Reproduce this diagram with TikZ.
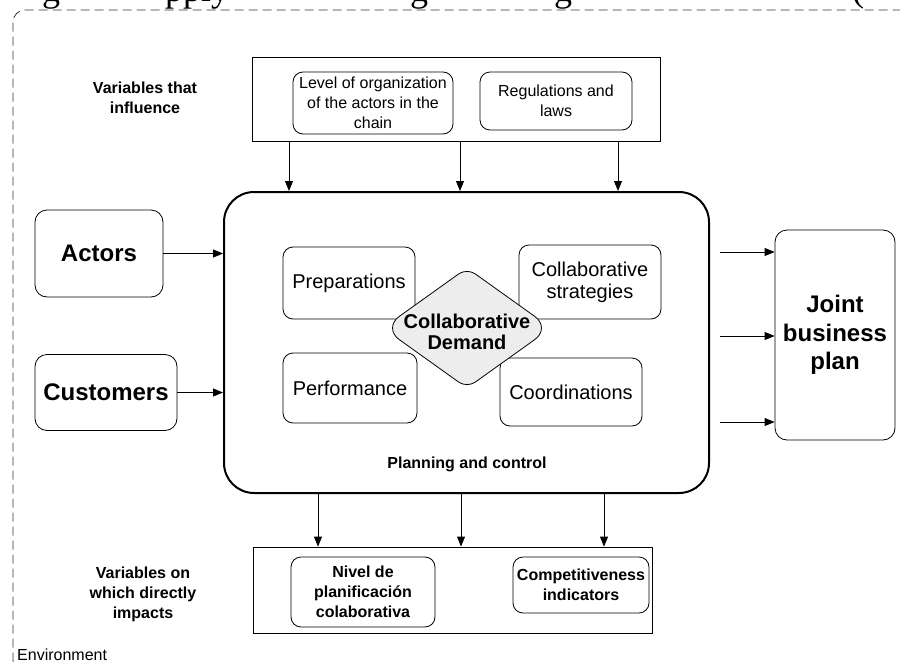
\documentclass[tikz,border=0pt]{standalone}
\usepackage{fontspec}
\setmainfont{Liberation Sans}
\newfontfamily\capfont{Liberation Serif}
\usetikzlibrary{shapes.geometric,arrows.meta,calc}
\begin{document}
\begin{tikzpicture}[x=1pt,y=-1pt,
  rbox/.style={draw, rounded corners=10pt, align=center, inner sep=1pt, line width=0.8pt},
  sqbox/.style={draw, inner sep=0pt, line width=0.8pt},
  t16/.style={font=\fontsize{16}{20}\selectfont},
  b16/.style={font=\bfseries\fontsize{16}{20}\selectfont},
  t20/.style={font=\fontsize{20}{22}\selectfont},
  b20/.style={font=\bfseries\fontsize{20}{21}\selectfont},
  b24/.style={font=\bfseries\fontsize{24}{28.5}\selectfont},
  arr/.style={-{Triangle[length=10pt,width=8pt]}, line width=0.8pt},
  capfrag/.style={font=\capfont\fontsize{36}{40}\selectfont, inner sep=0pt, anchor=base west},
  frame/.style={draw=black!80, line width=0.8pt, dash pattern=on 9pt off 5pt, rounded corners=12pt},
  diamondshape/.style={draw, line width=0.8pt, fill=black!7}
]
\useasboundingbox (0,0) rectangle (900,664);

% clipped caption fragments above the frame
\node[capfrag] (cf1) at (42,1.5) {g};
\node[capfrag] (cf2) at (165,1.5) {pply};
\node[capfrag] (cf3) at (410,1.5) {g};
\node[capfrag] (cf4) at (554,1.5) {g};
\node[capfrag] (cf5) at (852,1.5) {(};

% environment frame
\draw[frame] (960,672) -- (13,672) -- (13,10) -- (960,10);
\node[t16, anchor=west, inner sep=0pt] (env) at (17,655) {Environment};

% top box
\node[sqbox, minimum width=408pt, minimum height=84pt] (topbox) at (456,99) {};
\node[rbox, t16, minimum width=160pt, minimum height=62pt] (level) at (373,103)
  {Level of organization\\of the actors in the\\chain};
\node[rbox, t16, minimum width=152pt, minimum height=58pt] (regs) at (556,101)
  {Regulations and\\laws};
\node[b16, align=center] (varinf) at (145,98) {Variables that\\influence};

% main box
\node[draw, line width=2pt, rounded corners=30pt, minimum width=485pt, minimum height=301pt] (main) at (466.5,342.5) {};
\node[b16] (plan) at (467,464) {Planning and control};

\node[rbox, t20, minimum width=132pt, minimum height=72pt] (prep) at (349,283) {Preparations};
\node[rbox, t20, minimum width=142pt, minimum height=74pt] (strat) at (590,282) {Collaborative\\strategies};
\node[rbox, t20, minimum width=134pt, minimum height=70pt] (perf) at (350,388) {Performance};
\node[rbox, t20, minimum width=142pt, minimum height=68pt] (coord) at (571,392) {Coordinations};

% central diamond
\draw[diamondshape] (425,298) [rounded corners=20pt] -- (383,328) -- (425,358)
  [rounded corners=10pt] -- (467,388) -- (509,358)
  [rounded corners=20pt] -- (551,328) -- (509,298)
  [rounded corners=10pt] -- (467,268) -- cycle;
\node[b20, align=center, inner sep=0pt] (demand) at (467,332) {Collaborative\\Demand};

% left boxes
\node[rbox, b24, rounded corners=12pt, minimum width=128pt, minimum height=87pt] (actors) at (99,253.5) {Actors};
\node[rbox, b24, rounded corners=12pt, minimum width=142pt, minimum height=76pt] (cust) at (106,392.5) {Customers};

% right box
\node[rbox, b24, rounded corners=12pt, minimum width=120pt, minimum height=210pt] (joint) at (835,335) {Joint\\business\\plan};

% bottom box
\node[sqbox, minimum width=399pt, minimum height=86pt] (botbox) at (452.5,590) {};
\node[rbox, b16, minimum width=144pt, minimum height=70pt] (nivel) at (363,592)
  {Nivel de\\planificación\\colaborativa};
\node[rbox, b16, minimum width=136pt, minimum height=56pt] (comp) at (581,585)
  {Competitiveness\\indicators};
\node[b16, align=center] (varimp) at (143,594) {Variables on\\which directly\\impacts};

% connectors
\coordinate (xa) at (289,0);
\coordinate (xb) at (460,0);
\coordinate (xc) at (618,0);
\draw[arr] (topbox.south -| xa) -- (main.north -| xa);
\draw[arr] (topbox.south -| xb) -- (main.north -| xb);
\draw[arr] (topbox.south -| xc) -- (main.north -| xc);

\draw[arr] (actors.east) -- (actors.east -| main.west);
\draw[arr] (cust.east) -- (cust.east -| main.west);

\coordinate (ya) at (0,252);
\coordinate (yb) at (0,336);
\coordinate (yc) at (0,422);
\draw[arr] ([xshift=10pt]main.east |- ya) -- (joint.west |- ya);
\draw[arr] ([xshift=10pt]main.east |- yb) -- (joint.west |- yb);
\draw[arr] ([xshift=10pt]main.east |- yc) -- (joint.west |- yc);

\coordinate (xd) at (318,0);
\coordinate (xe) at (461,0);
\coordinate (xf) at (604,0);
\draw[arr] (main.south -| xd) -- (botbox.north -| xd);
\draw[arr] (main.south -| xe) -- (botbox.north -| xe);
\draw[arr] (main.south -| xf) -- (botbox.north -| xf);
\end{tikzpicture}
\end{document}
